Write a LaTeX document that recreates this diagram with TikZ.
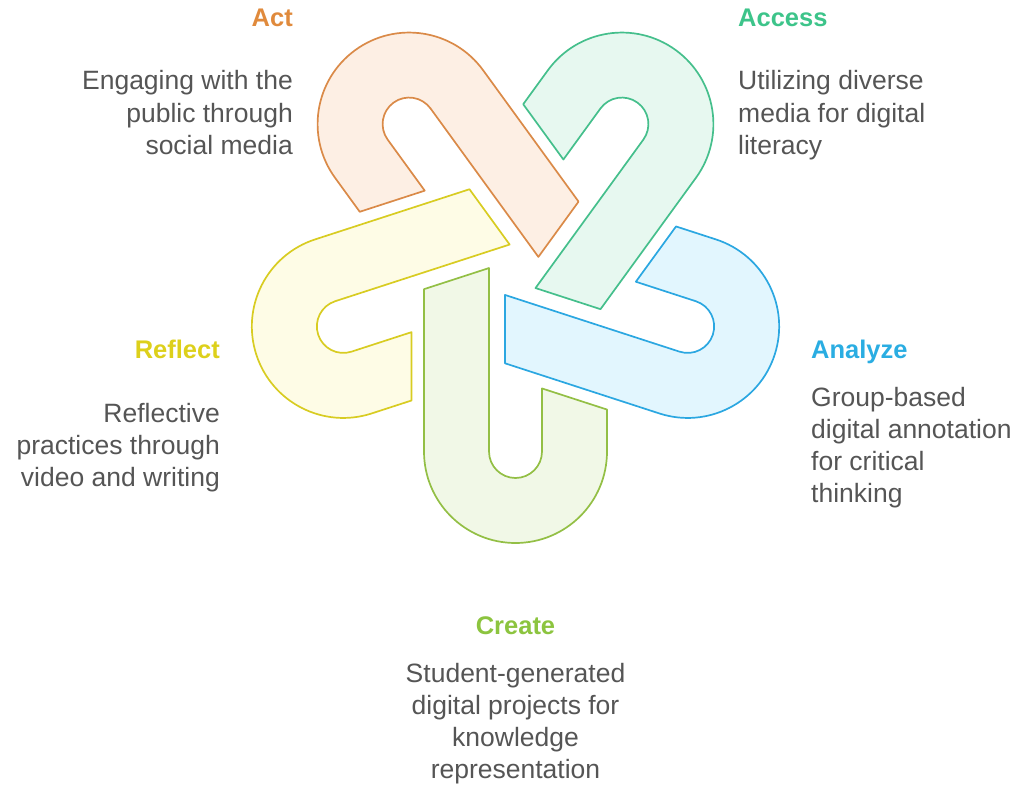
\documentclass[tikz,border=0pt]{standalone}
\usepackage{fontspec}
\setmainfont{Liberation Sans}

% stroke / fill / title colours of the five hooks
\definecolor{actL}{HTML}{DA8A48}    \definecolor{actF}{HTML}{FDEFE4}  \definecolor{actT}{HTML}{E08A3C}
\definecolor{accL}{HTML}{45BF8C}    \definecolor{accF}{HTML}{E7F8F0}  \definecolor{accT}{HTML}{3DC48A}
\definecolor{anaL}{HTML}{2BA7E1}    \definecolor{anaF}{HTML}{E2F6FE}  \definecolor{anaT}{HTML}{2AADE2}
\definecolor{creL}{HTML}{93BF45}    \definecolor{creF}{HTML}{F1F8E7}  \definecolor{creT}{HTML}{8CC43F}
\definecolor{refL}{HTML}{D8CC22}    \definecolor{refF}{HTML}{FEFCE6}  \definecolor{refT}{HTML}{DDD01B}
\definecolor{txtgray}{HTML}{555555}

\begin{document}
\begin{tikzpicture}[x=1pt,y=1pt,
  % one U-shaped hook, drawn with its bend pointing down from the centre;
  % the others are the same outline turned by multiples of 72 degrees
  hookshape/.style={insert path={
    (-91.5,-18.67) -- (-91.5,-181)
    arc[start angle=180,end angle=360,radius=91.5]
    -- (91.5,-139.05) -- (26.5,-117.93) -- (26.5,-181)
    arc[start angle=0,end angle=-180,radius=26.5]
    -- (-26.5,2.45) -- cycle}},
  hook/.style={line width=1.7pt, line join=round},
  title/.style={font=\fontsize{25.5}{30}\selectfont\bfseries, inner sep=0pt},
  % multi-line blocks are placed by the baseline of their last line
  desc/.style={font=\fontsize{26.5}{32.3}\selectfont, text=txtgray, inner sep=0pt}]

\useasboundingbox (0,0) rectangle (1025,-786);
\coordinate (C) at (515.5,-270.5);

% the five interlocking hooks
\begin{scope}[shift={(C)}, rotate=0]
  \draw[hook, draw=creL, fill=creF, hookshape];
\end{scope}
\begin{scope}[shift={(C)}, rotate=72]
  \draw[hook, draw=anaL, fill=anaF, hookshape];
\end{scope}
\begin{scope}[shift={(C)}, rotate=144]
  \draw[hook, draw=accL, fill=accF, hookshape];
\end{scope}
\begin{scope}[shift={(C)}, rotate=216]
  \draw[hook, draw=actL, fill=actF, hookshape];
\end{scope}
\begin{scope}[shift={(C)}, rotate=288]
  \draw[hook, draw=refL, fill=refF, hookshape];
\end{scope}

% labels
\node[title, text=actT, anchor=base east] (actTitle) at (293,-26.5) {Act};
\node[desc, align=right, anchor=base east] (actText) at (293,-154.6)
  {Engaging with the\\public through\\social media};

\node[title, text=accT, anchor=base west] (accTitle) at (738,-26.5) {Access};
\node[desc, align=left, anchor=base west] (accText) at (738,-154.6)
  {Utilizing diverse\\media for digital\\literacy};

\node[title, text=anaT, anchor=base west] (anaTitle) at (811,-358.5) {Analyze};
\node[desc, align=left, anchor=base west] (anaText) at (811,-502.9)
  {Group-based\\digital annotation\\for critical\\thinking};

\node[title, text=refT, anchor=base east] (refTitle) at (220,-358.5) {Reflect};
\node[desc, align=right, anchor=base east] (refText) at (220,-486.6)
  {Reflective\\practices through\\video and writing};

\node[title, text=creT, anchor=base] (creTitle) at (515.5,-634.5) {Create};
\node[desc, align=center, anchor=base] (creText) at (515.5,-778.9)
  {Student-generated\\digital projects for\\knowledge\\representation};
\end{tikzpicture}
\end{document}
